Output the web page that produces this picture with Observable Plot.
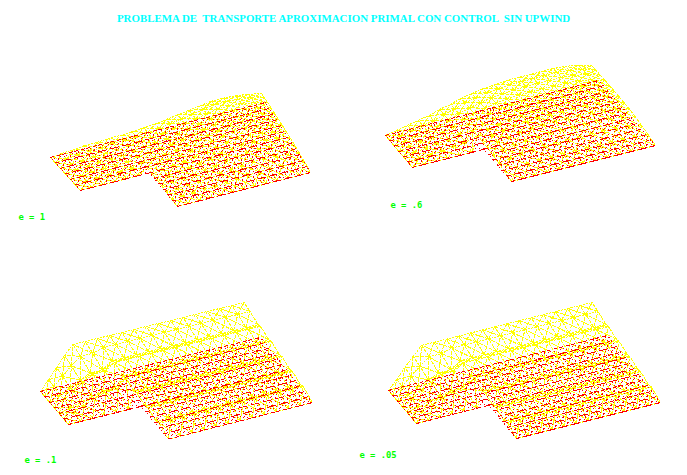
<!DOCTYPE html>
<html><head><meta charset="utf-8">
<script src="https://cdn.jsdelivr.net/npm/d3@7"></script>
<script src="https://cdn.jsdelivr.net/npm/@observablehq/plot@0.6"></script>
<style>html,body{margin:0;padding:0;background:#fff}svg{display:block}</style>
</head><body><div id="c"></div>
<script>
const titleText = "PROBLEMA DE  TRANSPORTE APROXIMACION PRIMAL CON CONTROL  SIN UPWIND";
const labels = ["e = 1", "e = .6", "e = .1", "e = .05"];
const labelX = [18, 390, 24, 359];
const labelY = [217, 205, 460, 455];
// corners of the flat domain as read: back-left, back-right, front-right, front-left
const cornerX = [[50,265,310,110],[385,598,655,439],[40,260,312,96],[388,607,660,444]];
const cornerY = [[157,102,172,223],[135,80,145,199],[391,337,402,457],[390,335,402,456]];
// surface height along the back edge, one value per mesh column
const backHeight = [
 [0,1,2,3,3,4,5,6,7,8,10,12,14,16,18,18,17,15,12],
 [0,2,4,6,8,11,14,17,19,21,22,23,23,23,23,23,22,20,16],
 [0,9,18,27,35,35,35,35,35,35,35,35,35,35,35,35,35,35,35],
 [0,8,17,25,33,33,33,33,33,33,33,33,33,33,33,33,33,33,33]
];
// relative height from the inflow edge to the back edge: long columns (13 nodes), short columns (7 nodes)
const longProfile = [
 [0,.35,.6,.78,.9,.96,1,1,1,1,.96,.88,.75],
 [0,.3,.55,.75,.88,.95,.98,1,1,1,1,.98,.92],
 [0,.3,.2,.42,.32,.54,.44,.66,.56,.78,.68,.9,1],
 [0,.3,.2,.42,.32,.54,.44,.66,.56,.78,.68,.9,1]
];
const shortProfile = [
 [0,.45,.7,.88,.96,1,.95],
 [0,.4,.65,.85,.95,1,.98],
 [0,.42,.3,.62,.5,.82,1],
 [0,.42,.3,.62,.5,.82,1]
];
const heightLean = 0.47;
const columns = 18, rows = 12, notchColumns = 6, notchRows = 6;

function node(p, i, j) {
  const u = i / columns, v = j / rows; // j = 0 at the front edge, rows at the back
  const [ax,bx,cx,dx] = cornerX[p], [ay,by,cy,dy] = cornerY[p];
  const x = (1-v)*((1-u)*dx+u*cx) + v*((1-u)*ax+u*bx);
  const y = (1-v)*((1-u)*dy+u*cy) + v*((1-u)*ay+u*by);
  const f = i < notchColumns ? shortProfile[p][j-notchRows] : longProfile[p][j];
  const h = backHeight[p][i]*f;
  return {x, y, sx: x - heightLean*h, sy: y - h};
}
function inside(i,j){return i>=0&&i<=columns&&j>=0&&j<=rows&&!(i<notchColumns&&j<notchRows);}
function cellInside(i,j){return i>=0&&i<columns&&j>=0&&j<rows&&!(i<notchColumns&&j<notchRows);}
const alongEdges = [], crossEdges = [];
for (let p=0;p<4;p++){
  const push=(list,a,b,c,d)=>{const n=node(p,a,b),m=node(p,c,d);list.push({x1:n.x,x2:m.x,y1:n.y,y2:m.y,sx1:n.sx,sx2:m.sx,sy1:n.sy,sy2:m.sy});};
  for(let i=0;i<=columns;i++)for(let j=0;j<=rows;j++){
    if(!inside(i,j))continue;
    if(inside(i+1,j)&&(cellInside(i,j)||cellInside(i,j-1)))push(alongEdges,i,j,i+1,j);
    if(inside(i,j+1)&&(cellInside(i,j)||cellInside(i-1,j)))push(crossEdges,i,j,i,j+1);
    if(cellInside(i,j)){ push(crossEdges,i,j,i+1,j+1); push(crossEdges,i+1,j,i,j+1); }
  }
}
const surface = (data,dash)=>Plot.link(data,{x1:"sx1",x2:"sx2",y1:"sy1",y2:"sy2",stroke:"#ffff00",strokeWidth:1,strokeDasharray:dash,shapeRendering:"crispEdges"});
const base = (data,dash)=>Plot.link(data,{x1:"x1",x2:"x2",y1:"y1",y2:"y2",stroke:"#ff0000",strokeWidth:1,strokeDasharray:dash,shapeRendering:"crispEdges"});
const plot = Plot.plot({
  width:687,height:475,margin:0,
  x:{domain:[0,687],range:[0,687],axis:null},
  y:{domain:[0,475],range:[0,475],axis:null},
  marks:[
    surface(alongEdges,"2 1"),
    surface(crossEdges,"4 1"),
    base(crossEdges,"1 3"),
    base(alongEdges,"4 3"),
    Plot.text([titleText],{x:()=>343,y:()=>18,text:d=>d,fill:"#00ffff",fontSize:10.9,fontWeight:"bold",fontFamily:"Liberation Serif",textAnchor:"middle"}),
    Plot.text(labels,{x:(d,i)=>labelX[i],y:(d,i)=>labelY[i],text:d=>d,fill:"#00ff00",fontSize:8.8,fontWeight:"bold",fontFamily:"DejaVu Sans Mono",textAnchor:"start"})
  ]
});
plot.style.background="#fff";
document.getElementById("c").append(plot);
</script></body></html>
